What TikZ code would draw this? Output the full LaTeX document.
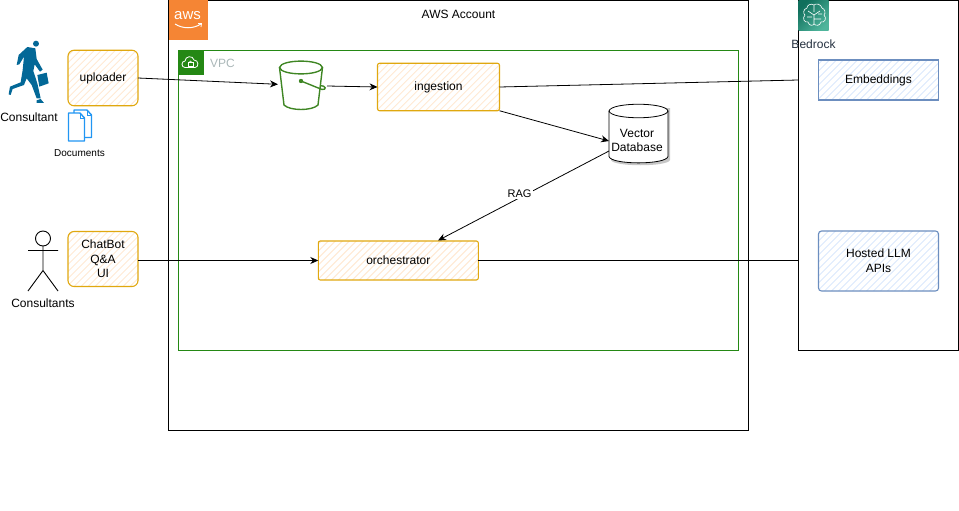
\documentclass[tikz,border=0pt]{standalone}
\usepackage{fontspec}
\setmainfont{Liberation Sans}
\usetikzlibrary{arrows.meta,shapes.geometric,calc}
\definecolor{orangeline}{HTML}{E0A80F}
\definecolor{orangefill}{HTML}{FFE9D3}
\definecolor{blueline}{HTML}{6C8EBF}
\definecolor{bluefill}{HTML}{DAE8FC}
\definecolor{vpcgreen}{HTML}{248814}
\definecolor{awsorange}{HTML}{F58534}
\definecolor{bucketgreen}{HTML}{3F8624}
\definecolor{manblue}{HTML}{036897}
\definecolor{docblue}{HTML}{2196F3}
\definecolor{bedrockA}{HTML}{106F5C}
\definecolor{bedrockB}{HTML}{4FB59C}
\definecolor{vpcgray}{HTML}{AAB7B8}
\definecolor{bedrocktext}{HTML}{232F3E}
\tikzset{
  x=1pt,y=-1pt,
  every node/.style={font=\fontsize{12}{14.7}\selectfont,align=center,inner sep=0pt,outer sep=0pt,text=black},
  conn/.style={draw=black,line width=0.8pt},
  arr/.style={conn,-{Stealth[length=8pt,width=7pt]}},
  hatchO/.style={path picture={\foreach \i in {-120,-113,...,200}{\draw[orangefill,line width=1pt]
     ($(path picture bounding box.south west)+(\i pt,0pt)$) -- ++(120pt,120pt);}}},
  hatchB/.style={path picture={\foreach \i in {-120,-113,...,200}{\draw[bluefill,line width=1pt]
     ($(path picture bounding box.south west)+(\i pt,0pt)$) -- ++(120pt,120pt);}}},
  obox/.style={draw=orangeline,line width=1.1pt,hatchO},
  bbox/.style={draw=blueline,line width=1.1pt,hatchB},
  frame/.style={draw=black,line width=0.8pt,minimum width=0pt},
  bucketline/.style={draw=bucketgreen,line width=1.4pt},
  docsheet/.style={draw=docblue,fill=white,line width=1.4pt,line join=round},
  brain/.style={draw=white,line width=0.6pt}
}
\begin{document}
\begin{tikzpicture}
\useasboundingbox (0,0) rectangle (959,511);
% containers
\node[frame,minimum width=580pt,minimum height=430pt,anchor=north west] (acct) at (168.5,0.5) {};
\node[frame,minimum width=160pt,minimum height=350pt,anchor=north west] (bed) at (798.5,0.5) {};
\node[draw=vpcgreen,line width=0.9pt,minimum width=560pt,minimum height=300pt,anchor=north west] (vpc) at (178.5,50.5) {};
\node (acctlabel) at (458.5,14) {AWS Account};
% AWS badge
\node[fill=awsorange,minimum width=39pt,minimum height=40pt,anchor=north west] (awsbadge) at (168.5,0) {};
\node[text=white,font=\fontsize{15}{15}\selectfont] (awslogo) at (187.5,15.5) {aws};
\draw[white,line width=1pt] (175,24) .. controls (183,29) and (193,29) .. (201,24);
\draw[white,line width=0.8pt] (198,23.5) -- (201.5,23.5) -- (201,27);
% VPC badge
\node[fill=vpcgreen,minimum width=25pt,minimum height=25pt,anchor=north west] (vpcbadge) at (178.5,50.5) {};
\draw[white,line width=0.8pt] (185,67.5) .. controls (181,67.5) and (181,61) .. (185,61) .. controls (185,56) and (193,55) .. (194,60) .. controls (199,60) and (199,67.5) .. (195,67.5) -- cycle;
\draw[white,line width=0.7pt] (188,62.5) rectangle (193,66);
\draw[white,line width=0.7pt] (189,62.5) arc (180:360:1.5);
\node[text=vpcgray,anchor=west] (vpclabel) at (210,63) {VPC};
% Bedrock badge
\node[left color=bedrockA,right color=bedrockB,shading angle=45,minimum width=30pt,minimum height=30pt,anchor=north west] (bedbadge) at (798.5,0.5) {};
\draw[brain] (814,5) .. controls (811,3) and (807,5) .. (807,8) .. controls (803,9) and (803,14) .. (805,15) .. controls (802,18) and (804,23) .. (808,22) .. controls (809,26) and (813,26) .. (814,24) .. controls (816,26) and (820,26) .. (821,22) .. controls (825,23) and (827,18) .. (824,15) .. controls (826,13) and (825,9) .. (822,8) .. controls (821,4) and (816,3) .. (814,5) -- cycle;
\draw[brain] (814,5) -- (814,12) (808,11) -- (814,15) -- (820,11) (807,17) -- (812,17) (814,19) -- (821,19) (814,15) -- (814,24) (818,14) -- (822,14);
\node[text=bedrocktext,fill=none] (bedlabel) at (813.5,44) {Bedrock};
% Bucket
\coordinate (bucketin) at (278,84.3);
\coordinate (bucketout) at (327,86);
\draw[bucketline] (279.5,67.5) .. controls (281,59) and (321,59) .. (322.5,67.5) .. controls (321,76) and (281,76) .. (279.5,67.5) -- cycle;
\draw[bucketline] (279.5,67.5) -- (284,105) .. controls (290,111) and (312,111) .. (318,105) -- (322.5,67.5);
\draw[bucketline] (301,81) -- (322,89.5) .. controls (327,90) and (326,85.5) .. (320,85.5);
\fill[bucketgreen] (301,81) circle (2.2pt);
% Boxes
\node[obox,rounded corners=6pt,minimum width=70pt,minimum height=55.5pt] (uploader) at (103,78) {uploader};
\node[obox,rounded corners=2pt,minimum width=122pt,minimum height=47.5pt] (ingestion) at (438.5,87) {ingestion};
\node[obox,rounded corners=2pt,minimum width=160pt,minimum height=39pt] (orch) at (398.3,260.5) {orchestrator};
\node[obox,rounded corners=6pt,minimum width=70pt,minimum height=55pt] (chatbot) at (103,259) {ChatBot\\Q\&A\\UI};
\node[bbox,minimum width=120pt,minimum height=40pt] (embed) at (878.5,80) {Embeddings};
\node[bbox,rounded corners=3pt,minimum width=120pt,minimum height=60pt] (llm) at (878.5,261) {Hosted LLM\\APIs};
% Vector DB
\fill[black!22] (611,108) -- (611,160) .. controls (613,167) and (668,167) .. (670,160) -- (670,108) -- cycle;
\draw[fill=white,draw=black,line width=0.8pt] (609,111) -- (609,156.5) .. controls (611,165) and (666,165) .. (668,156.5) -- (668,111) .. controls (666,102) and (611,102) .. (609,111) -- cycle;
\draw[line width=0.8pt] (609,111) .. controls (611,120) and (666,120) .. (668,111);
\node[minimum width=59pt,minimum height=59pt] (vdb) at (638.5,134) {};
\node (vdblabel) at (637,140.5) {Vector\\Database};
% Consultant icon
\begin{scope}[shift={(0,35)},scale=1/3,manblue]
 \fill (108,26) circle (9);
 \fill (82,36) -- (106,40) -- (110,72) -- (128,104) -- (120,110) -- (104,88) -- (100,108) -- (112,145) -- (122,190) -- (110,190) -- (95,150) -- (80,130) -- (72,150) -- (38,162) -- (32,180) -- (26,178) -- (30,155) -- (62,142) -- (68,105) -- (72,65) -- (58,88) -- (50,90) -- (56,60) -- cycle;
 \fill (112,120) -- (140,113) -- (146,145) -- (118,155) -- cycle;
 \fill (110,196) -- (122,192) -- (132,204) -- (110,204) -- cycle;
\end{scope}
\node (consultant) at (29,117) {Consultant};
% Documents icon
\draw[docsheet] (74,110) -- (87,110) -- (91.5,115) -- (91.5,137.5) -- (74,137.5) -- cycle;
\draw[docsheet] (68.5,113) -- (80,113) -- (84.5,118) -- (84.5,141) -- (68.5,141) -- cycle;
\draw[docblue,line width=1pt] (80,113) -- (80,118) -- (84.5,118) (87,110) -- (87,115) -- (91.5,115);
\node[font=\fontsize{10}{12}\selectfont] (docs) at (79.5,153.5) {Documents};
% Stick figure
\node[draw=black,line width=0.9pt,circle,minimum size=15pt] (head) at (43,238.5) {};
\coordinate (hip) at (43,270.5);
\coordinate (handl) at (28,250.5);
\coordinate (handr) at (58,250.5);
\coordinate (footl) at (28,291);
\coordinate (footr) at (58,291);
\draw[line width=0.9pt] (head.south) -- (hip) (handl) -- (handr) (footl) -- (hip) -- (footr);
\node (consultants) at (43,303.5) {Consultants};
% Connectors
\draw[arr] (uploader.east) -- (bucketin);
\draw[arr] (bucketout) -- (ingestion.west);
\draw[conn] (ingestion.east) -- (bed.west |- embed.west);
\draw[arr] (ingestion.south east) -- (vdb.west |- 0,141);
\draw[arr] (vdb.west |- 0,151) -- (438,240.5);
\node[fill=white,inner sep=2pt,font=\fontsize{11}{13}\selectfont] (rag) at (519.5,193.3) {RAG};
\draw[arr] (chatbot.east |- orch.west) -- (orch.west);
\draw[conn] (orch.east) -- (bed.west |- orch.east);
\end{tikzpicture}
\end{document}
